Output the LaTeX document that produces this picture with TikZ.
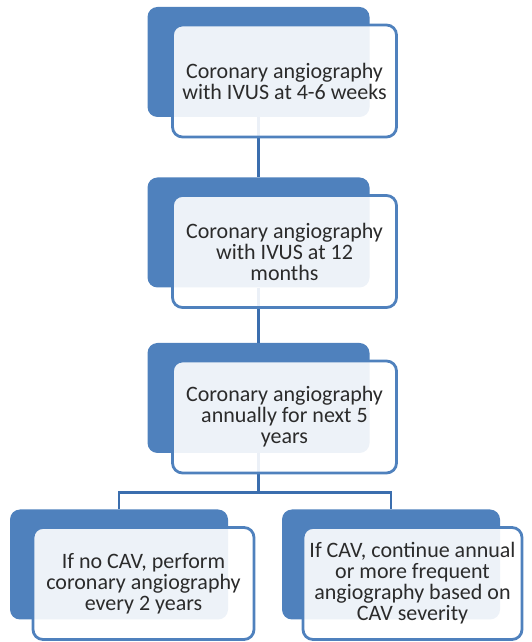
\documentclass[tikz,border=0pt]{standalone}
\usepackage{fontspec}
\setmainfont{Carlito}
\usetikzlibrary{positioning}
\definecolor{officeblue}{HTML}{4F81BD}
\definecolor{linkblue}{HTML}{3B6EAE}
\definecolor{txtgrey}{HTML}{2B2B2B}
\tikzset{
  back/.style={fill=officeblue,rounded corners=10pt,minimum width=222pt,minimum height=110pt,inner sep=0pt},
  front/.style={draw=officeblue,line width=2.8pt,fill=white,fill opacity=0.9,text opacity=1,rounded corners=10pt,
    minimum width=224pt,minimum height=112pt,inner sep=2pt,align=center,text=txtgrey,
    font=\fontsize{22pt}{21pt}\selectfont},
  link/.style={draw=linkblue,line width=2.8pt}
}
\begin{document}
\begin{tikzpicture}[x=1pt,y=1pt]
\useasboundingbox (0,0) rectangle (531,642);
% dark boxes behind
\node[back] (back1) at (258.5,580) {};
\node[back] (back2) at (258.5,409.5) {};
\node[back] (back3) at (258.5,244) {};
\node[back,minimum width=218pt] (back4) at (119,77.5) {};
\node[back,minimum width=218pt] (back5) at (391,77.5) {};
% connectors
\draw[link] (back1) -- (back2);
\draw[link] (back2) -- (back3);
\coordinate[below=39pt of back3.south] (split);
\draw[link] (back3.south) -- (split) -| (back4.north);
\draw[link] (split) -| (back5.north);
% light boxes with text
\node[front] (front1) at ([shift={(26pt,-19pt)}]back1) {Coronary angiography\\with IVUS at 4-6 weeks};
\node[front] (front2) at ([shift={(26pt,-19pt)}]back2) {Coronary angiography\\with IVUS at 12\\months};
\node[front] (front3) at ([shift={(26pt,-19pt)}]back3) {Coronary angiography\\annually for next 5\\years};
\node[front,minimum width=221pt] (front4) at ([shift={(24.5pt,-19pt)}]back4) {If no CAV, perform\\coronary angiography\\every 2 years};
\node[front,minimum width=219pt] (front5) at ([shift={(21.5pt,-19pt)}]back5) {If CAV, continue annual\\or more frequent\\angiography based on\\CAV severity};
\end{tikzpicture}
\end{document}
